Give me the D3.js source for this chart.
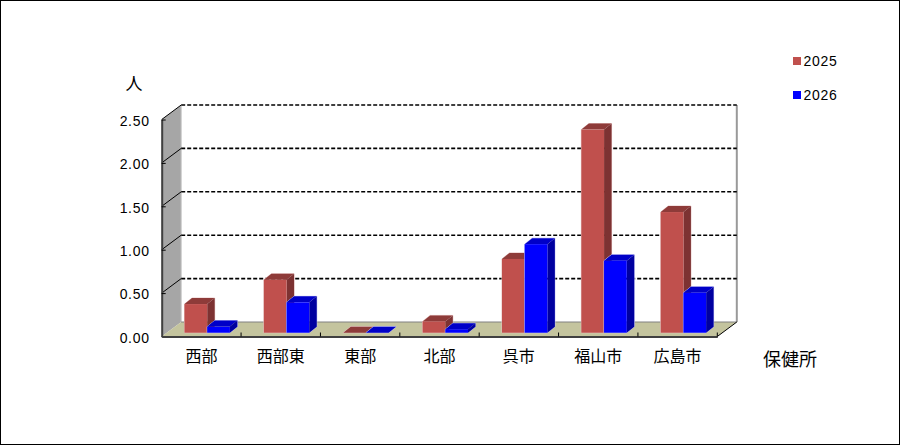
<!DOCTYPE html>
<html lang="ja">
<head>
    <meta charset="utf-8" />
    <title>保健所</title>
    <script src="https://d3js.org/d3.v7.min.js"></script>
    <style>
        html, body { margin: 0; padding: 0; background: #fff; overflow: hidden; }
        svg { display: block; }
        text { font-family: "Noto Sans CJK JP", sans-serif; font-size: 14px; fill: #000; }
        .num { font-family: "Liberation Sans", sans-serif; font-size: 14px; letter-spacing: 0.7px; }
    </style>
</head>
<body>
    <script>
        const categories = ["西部", "西部東", "東部", "北部", "呉市", "福山市", "広島市"];
        const seriesNames = ["2025", "2026"];
        const values2025 = [0.33, 0.61, 0, 0.13, 0.85, 2.34, 1.39];
        const values2026 = [0.07, 0.35, 0, 0.04, 1.02, 0.83, 0.46];
        const yTicks = [0, 0.5, 1, 1.5, 2, 2.5];
        const colors = {
            "2025": { front: "#C0504D", top: "#8E3B39", side: "#7D3232", edge: "#E6C4C3" },
            "2026": { front: "#0000FF", top: "#0000C8", side: "#0000A0", edge: "#C4C4F4" }
        };

        const width = 900, height = 445;
        const left = 161.7, right = 717.3;
        // front plane of the 3D box, back wall is shifted by depth
        const depthX = 19.5, depthY = -14.5;
        const y0 = 336.5, yTop = 119.5;
        // bars stand a little inside the floor
        const barOffsetY = -3.8;
        const barDX = 7.5, barDY = -6;

        const svg = d3.select("body").append("svg")
            .attr("width", width)
            .attr("height", height);

        svg.append("rect")
            .attr("x", 0.5).attr("y", 0.5)
            .attr("width", width - 1).attr("height", height - 1)
            .attr("fill", "#fff").attr("stroke", "#000");

        const x = d3.scaleBand().domain(categories).range([left, right]);
        const xInner = d3.scaleBand().domain(seriesNames).range([22.8, 68.2]);
        const y = d3.scaleLinear().domain([0, 2.5]).range([y0, yTop]);

        const pts = a => a.map(p => p.join(",")).join(" ");

        // back wall
        svg.append("line")
            .attr("x1", right + depthX).attr("x2", right + depthX)
            .attr("y1", yTop + depthY).attr("y2", y0 + depthY)
            .attr("stroke", "#999").attr("stroke-width", 2);

        // left wall
        svg.append("polygon")
            .attr("points", pts([[left, y0], [left, yTop], [left + depthX, yTop + depthY], [left + depthX, y0 + depthY]]))
            .attr("fill", "#A6A6A6");
        svg.append("line")
            .attr("x1", left + depthX).attr("x2", left + depthX)
            .attr("y1", yTop + depthY).attr("y2", y0 + depthY)
            .attr("stroke", "#C8C8C8");

        // floor
        svg.append("polygon")
            .attr("points", pts([[left, y0], [left + depthX, y0 + depthY], [right + depthX, y0 + depthY], [right, y0]]))
            .attr("fill", "#C4C49E");
        svg.append("line")
            .attr("x1", left + depthX).attr("x2", right + depthX)
            .attr("y1", y0 + depthY).attr("y2", y0 + depthY)
            .attr("stroke", "#808080");
        svg.append("line")
            .attr("x1", right).attr("x2", right + depthX)
            .attr("y1", y0).attr("y2", y0 + depthY)
            .attr("stroke", "#000");

        // grid lines, on the back wall and slanting over the left wall
        const grid = svg.append("g");
        yTicks.filter(d => d > 0).forEach(d => {
            grid.append("line")
                .attr("x1", left + depthX).attr("x2", right + depthX)
                .attr("y1", y(d) + depthY).attr("y2", y(d) + depthY)
                .attr("stroke", "#000").attr("stroke-width", 1.6)
                .attr("stroke-dasharray", "4,2");
            grid.append("line")
                .attr("x1", left).attr("x2", left + depthX)
                .attr("y1", y(d)).attr("y2", y(d) + depthY)
                .attr("stroke", "#000");
        });

        // bars, drawn back to front per series
        const barData = categories.flatMap((c, i) => [
            { c, s: "2025", v: values2025[i] },
            { c, s: "2026", v: values2026[i] }
        ]);
        const bars = svg.append("g").selectAll("g").data(barData).join("g");
        const bx = d => x(d.c) + xInner(d.s);
        const bw = xInner.bandwidth();
        const byTop = d => y(d.v) + barOffsetY;
        const byBase = y(0) + barOffsetY;

        // pale halo round the whole block
        bars.append("polygon")
            .attr("points", d => pts([[bx(d), byBase], [bx(d), byTop(d)], [bx(d) + barDX, byTop(d) + barDY], [bx(d) + bw + barDX, byTop(d) + barDY], [bx(d) + bw + barDX, byBase + barDY], [bx(d) + bw, byBase]]))
            .attr("fill", "none")
            .attr("stroke", d => colors[d.s].edge);
        bars.append("polygon")
            .attr("points", d => pts([[bx(d), byTop(d)], [bx(d) + barDX, byTop(d) + barDY], [bx(d) + bw + barDX, byTop(d) + barDY], [bx(d) + bw, byTop(d)]]))
            .attr("fill", d => colors[d.s].top);
        bars.append("polygon")
            .attr("points", d => pts([[bx(d) + bw, byTop(d)], [bx(d) + bw + barDX, byTop(d) + barDY], [bx(d) + bw + barDX, byBase + barDY], [bx(d) + bw, byBase]]))
            .attr("fill", d => colors[d.s].side);
        bars.append("rect")
            .attr("x", bx)
            .attr("y", byTop)
            .attr("width", bw)
            .attr("height", d => byBase - byTop(d))
            .attr("fill", d => colors[d.s].front);

        // axes
        const yAxis = d3.axisLeft(y).tickValues(yTicks).tickSize(0).tickPadding(12).tickFormat(d3.format(".2f"));
        const yG = svg.append("g").attr("transform", `translate(${left},0)`).call(yAxis);
        yG.select(".domain").attr("stroke", "#404040").attr("stroke-width", 2);
        yG.selectAll("text").attr("class", "num").attr("dy", "0.42em");
        yG.selectAll(".tick line").attr("x2", 4).attr("stroke", "#000");

        const xAxis = d3.axisBottom(x).tickSize(0).tickPadding(14);
        const xG = svg.append("g").attr("transform", `translate(0,${y0})`).call(xAxis);
        xG.select(".domain").attr("stroke", "#404040").attr("stroke-width", 2);
        xG.selectAll("text").style("font-size", "16px");
        xG.selectAll(".sep").data(categories).join("line")
            .attr("class", "sep")
            .attr("x1", d => x(d) + x.step()).attr("x2", d => x(d) + x.step())
            .attr("y1", 0).attr("y2", -4)
            .attr("stroke", "#000");

        // axis titles
        svg.append("text").attr("x", 134).attr("y", 90).attr("text-anchor", "middle")
            .style("font-size", "17px").text("人");
        svg.append("text").attr("x", 790).attr("y", 366).attr("text-anchor", "middle")
            .style("font-size", "18px").text("保健所");

        // legend
        const legY = d3.scalePoint().domain(seriesNames).range([61, 95]);
        const leg = svg.append("g").selectAll("g").data(seriesNames).join("g")
            .attr("transform", d => `translate(793,${legY(d)})`);
        leg.append("rect").attr("y", -4).attr("width", 8).attr("height", 8)
            .attr("fill", d => colors[d].front);
        leg.append("text").attr("class", "num").attr("x", 10.5).attr("y", 5).text(d => d);
    </script>
</body>
</html>
